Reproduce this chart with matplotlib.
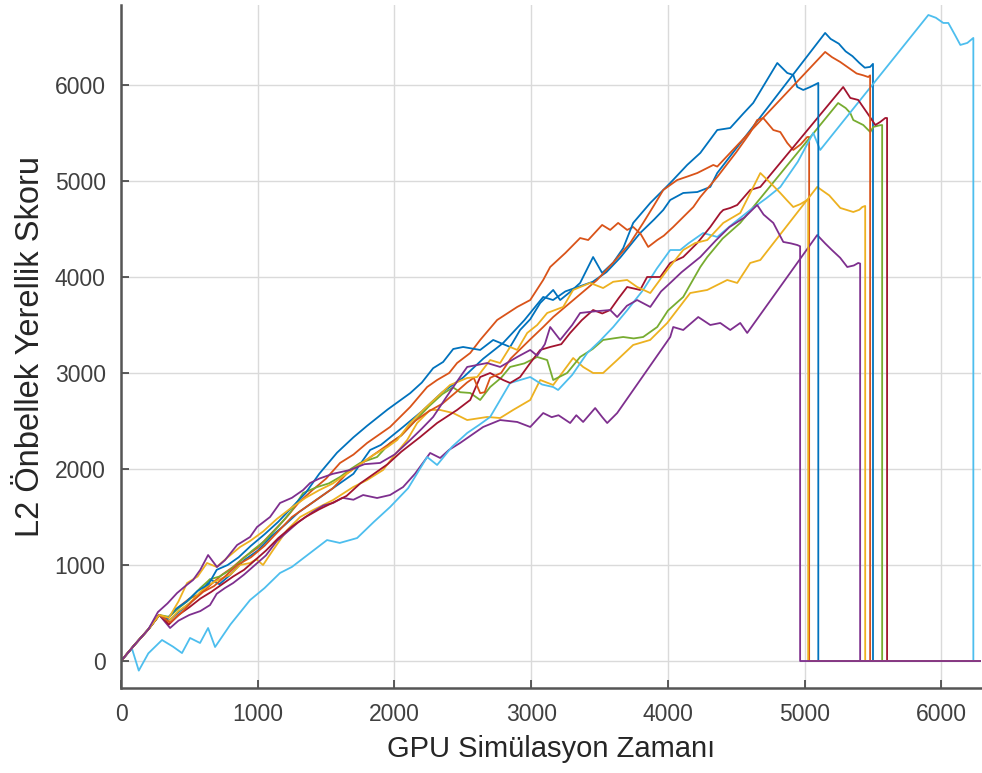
import matplotlib
matplotlib.use("Agg")
import matplotlib.pyplot as plt

# x-axis end of every run (after a run stops its score sits at 0)
X_MAX = 6290

# MATLAB default line colours
BLUE = "#0072BD"
ORANGE = "#D95319"
YELLOW = "#EDB120"
PURPLE = "#7E2F8E"
GREEN = "#77AC30"
LIGHTBLUE = "#4DBEEE"
RED = "#A2142F"

# --- run 1 (blue, stops at ~5500) ---
run1_x = [0, 100, 200, 280, 350, 430, 500, 580, 650, 720, 800, 900, 1000, 1100, 1200, 1300,
          1400, 1500, 1600, 1700, 1822, 1900, 2063, 2200, 2350, 2500, 2650, 2795, 2950, 3088,
          3160, 3250, 3350, 3450, 3550, 3650, 3797, 3900, 3966, 4017, 4112, 4215, 4310, 4361,
          5150, 5190, 5250, 5300, 5350, 5400, 5440, 5479, 5500]
run1_y = [0, 170, 330, 480, 420, 520, 600, 700, 850, 800, 900, 1050, 1150, 1300, 1420, 1550,
          1650, 1750, 1850, 1950, 2198, 2250, 2438, 2600, 2800, 2950, 3150, 3313, 3550, 3792,
          3760, 3850, 3900, 3950, 4050, 4200, 4458, 4600, 4698, 4802, 4875, 4885, 4938, 5083,
          6542, 6480, 6430, 6350, 6300, 6230, 6180, 6188, 6220]

# --- run 2 (orange, stops at ~5033) ---
run2_x = [0, 100, 200, 280, 340, 420, 500, 580, 660, 740, 820, 900, 1000, 1100, 1200, 1300,
          1400, 1500, 1602, 1700, 1800, 1968, 2115, 2239, 2312, 2400, 2458, 2554, 2627, 2751,
          2898, 2993, 3088, 3139, 3250, 3358, 3417, 3519, 3578, 3636, 3702, 3746, 3800, 3856,
          3922, 3970, 4039, 4186, 4237, 4361, 4500, 4600, 4653, 4697, 4771, 4822, 4873, 4917,
          4970, 5019, 5033]
run2_y = [0, 170, 330, 480, 440, 560, 650, 700, 800, 900, 980, 1080, 1180, 1330, 1480, 1650,
          1780, 1900, 2063, 2150, 2271, 2438, 2646, 2854, 2927, 3000, 3104, 3208, 3344, 3552,
          3688, 3760, 3969, 4104, 4250, 4406, 4385, 4542, 4490, 4563, 4490, 4521, 4450, 4313,
          4385, 4430, 4521, 4729, 4833, 5042, 5300, 5500, 5635, 5656, 5531, 5510, 5396, 5323,
          5380, 5458, 5458]

# --- run 3 (yellow, stops at ~5443) ---
run3_x = [0, 100, 200, 280, 340, 420, 500, 580, 650, 720, 800, 871, 944, 990, 1039, 1112,
          1215, 1310, 1405, 1551, 1698, 1800, 1917, 1990, 2093, 2166, 2261, 2334, 2429, 2532,
          2678, 2773, 2868, 2993, 3066, 3161, 3307, 3380, 3453, 3526, 3629, 3746, 3870, 3995,
          4163, 4288, 4434, 4507, 4602, 4676, 5092, 5180, 5261, 5356, 5400, 5422, 5443]
run3_y = [0, 170, 330, 480, 400, 520, 600, 720, 800, 850, 900, 1000, 1021, 1060, 1000, 1156,
          1365, 1500, 1573, 1677, 1812, 1885, 1990, 2125, 2302, 2479, 2615, 2615, 2583, 2510,
          2542, 2531, 2615, 2719, 2927, 2875, 3156, 3063, 3000, 3000, 3135, 3292, 3344, 3521,
          3833, 3865, 3969, 3938, 4146, 4177, 4938, 4850, 4719, 4677, 4700, 4729, 4740]

# --- run 4 (purple, stops at ~5406) ---
run4_x = [0, 100, 200, 280, 359, 420, 500, 580, 651, 700, 760, 820, 900, 980, 1060, 1140,
          1220, 1300, 1400, 1480, 1551, 1620, 1700, 1771, 1873, 1968, 2063, 2150, 2261, 2334,
          2400, 2480, 2560, 2649, 2773, 2898, 2993, 3088, 3150, 3200, 3285, 3330, 3380, 3468,
          3520, 3556, 3629, 4017, 4039, 4112, 4222, 4310, 4383, 4456, 4529, 4580, 5092, 5150,
          5200, 5260, 5312, 5360, 5392, 5406]
run4_y = [0, 170, 330, 480, 344, 420, 480, 520, 583, 700, 760, 812, 900, 1000, 1100, 1250,
          1350, 1450, 1550, 1620, 1646, 1700, 1680, 1729, 1698, 1729, 1812, 1950, 2167, 2115,
          2200, 2271, 2350, 2438, 2510, 2490, 2438, 2583, 2540, 2560, 2479, 2560, 2490, 2635,
          2540, 2479, 2583, 3375, 3479, 3448, 3583, 3500, 3521, 3448, 3521, 3417, 4437, 4350,
          4280, 4200, 4104, 4120, 4146, 4140]

# --- run 5 (green, stops at ~5567) ---
run5_x = [0, 100, 200, 280, 350, 430, 500, 580, 650, 720, 800, 880, 960, 1050, 1150, 1240,
          1332, 1434, 1520, 1602, 1680, 1749, 1873, 1968, 2050, 2150, 2250, 2350, 2429, 2480,
          2554, 2627, 2700, 2780, 2846, 2950, 3044, 3117, 3161, 3263, 3358, 3450, 3526, 3600,
          3673, 3750, 3819, 3922, 4000, 4112, 4237, 4288, 4400, 4529, 5245, 5300, 5334, 5356,
          5429, 5480, 5502, 5550, 5567]
run5_y = [0, 170, 330, 480, 460, 560, 640, 760, 850, 880, 950, 1050, 1150, 1250, 1400, 1550,
          1750, 1812, 1850, 1917, 2000, 2063, 2125, 2271, 2350, 2500, 2650, 2780, 2850, 2800,
          2792, 2719, 2854, 2950, 3063, 3100, 3167, 3135, 2927, 3000, 3167, 3250, 3344, 3360,
          3375, 3360, 3375, 3479, 3650, 3792, 4104, 4208, 4400, 4563, 5812, 5760, 5708, 5635,
          5583, 5510, 5563, 5580, 5583]

# --- run 6 (light blue, stops at ~6234) ---
run6_x = [0, 80, 130, 200, 300, 380, 446, 505, 578, 637, 688, 800, 944, 1050, 1163, 1250,
          1383, 1507, 1600, 1727, 1850, 1968, 2100, 2239, 2312, 2420, 2532, 2620, 2700, 2846,
          2993, 3080, 3161, 3197, 3300, 3410, 3500, 3600, 3700, 3819, 3920, 4017, 4090, 4150,
          4258, 4361, 4480, 4602, 4720, 4822, 4950, 5063, 5114, 5905, 5960, 6014, 6051, 6100,
          6139, 6190, 6234]
run6_y = [0, 130, -100, 80, 219, 150, 83, 240, 188, 344, 146, 380, 635, 760, 917, 980,
          1125, 1260, 1230, 1281, 1450, 1604, 1800, 2125, 2042, 2230, 2375, 2460, 2542, 2896,
          2958, 2880, 2854, 2823, 2980, 3208, 3330, 3479, 3650, 3865, 4090, 4281, 4281, 4350,
          4458, 4417, 4560, 4698, 4820, 4937, 5200, 5500, 5323, 6729, 6700, 6646, 6646, 6520,
          6417, 6438, 6490]

# --- run 7 (red, stops at ~5603) ---
run7_x = [0, 100, 200, 280, 350, 420, 500, 580, 660, 740, 820, 900, 980, 1060, 1150, 1250,
          1350, 1450, 1550, 1650, 1750, 1850, 1950, 2050, 2188, 2312, 2458, 2554, 2627, 2700,
          2795, 2846, 2919, 2993, 3066, 3139, 3220, 3285, 3370, 3453, 3520, 3578, 3640, 3702,
          3797, 3848, 3944, 4017, 4112, 4215, 4310, 4383, 4405, 4456, 4507, 4602, 4676, 5282,
          5334, 5392, 5458, 5517, 5553, 5590, 5603]
run7_y = [0, 170, 330, 480, 380, 480, 560, 650, 720, 800, 880, 950, 1050, 1150, 1280, 1400,
          1500, 1580, 1650, 1720, 1850, 1950, 2050, 2180, 2333, 2479, 2615, 2719, 2958, 3000,
          2927, 2896, 2958, 3104, 3240, 3271, 3300, 3417, 3550, 3656, 3620, 3656, 3780, 3896,
          3865, 4000, 4000, 4146, 4208, 4354, 4521, 4667, 4698, 4719, 4750, 4906, 4938, 5979,
          5865, 5844, 5708, 5583, 5615, 5656, 5656]

# --- run 8 (blue, stops at ~5100) ---
run8_x = [0, 100, 200, 280, 330, 400, 480, 560, 640, 700, 780, 860, 950, 1050, 1150, 1250,
          1350, 1450, 1580, 1700, 1800, 1950, 2115, 2200, 2283, 2356, 2430, 2502, 2627, 2722,
          2846, 2919, 2993, 3066, 3161, 3212, 3290, 3358, 3453, 3519, 3600, 3673, 3746, 3871,
          4017, 4141, 4237, 4361, 4456, 4550, 4624, 4800, 4873, 4917, 4946, 4990, 5041, 5100]
run8_y = [0, 170, 330, 480, 430, 540, 620, 730, 800, 950, 1000, 1080, 1200, 1320, 1450, 1600,
          1750, 1950, 2170, 2330, 2450, 2620, 2790, 2900, 3050, 3115, 3250, 3271, 3240, 3344,
          3271, 3448, 3560, 3729, 3865, 3760, 3850, 3938, 4208, 4042, 4150, 4300, 4563, 4771,
          4979, 5167, 5292, 5531, 5552, 5700, 5813, 6229, 6125, 6104, 5979, 5948, 5979, 6021]

# --- run 9 (orange, stops at ~5479) ---
run9_x = [0, 100, 200, 280, 360, 440, 520, 600, 680, 760, 850, 950, 1050, 1150, 1250, 1350,
          1450, 1550, 1650, 1750, 1850, 1950, 2050, 2150, 2250, 2350, 2450, 2530, 2580, 2627,
          2660, 2700, 2780, 2850, 2993, 3088, 3161, 3300, 3482, 3600, 3724, 3819, 3900, 3966,
          4068, 4150, 4215, 4332, 4361, 5150, 5200, 5260, 5320, 5380, 5430, 5465, 5479]
run9_y = [0, 170, 330, 480, 400, 500, 620, 720, 780, 880, 1000, 1080, 1200, 1350, 1500, 1600,
          1700, 1800, 1950, 2050, 2150, 2250, 2350, 2500, 2600, 2680, 2800, 2900, 2950, 2790,
          2800, 2950, 3000, 3150, 3350, 3479, 3583, 3750, 3969, 4150, 4354, 4563, 4750, 4906,
          5010, 5050, 5083, 5167, 5150, 6344, 6290, 6240, 6180, 6120, 6100, 6083, 6100]

# --- run 10 (yellow, stops at ~5026) ---
run10_x = [0, 100, 200, 280, 350, 420, 483, 560, 629, 700, 780, 871, 944, 1040, 1140, 1250,
           1350, 1450, 1550, 1650, 1750, 1850, 1950, 2020, 2115, 2210, 2312, 2407, 2532, 2605,
           2700, 2773, 2846, 2898, 2971, 3044, 3117, 3234, 3307, 3431, 3526, 3600, 3702, 3775,
           3871, 3995, 4112, 4200, 4288, 4405, 4529, 4676, 4750, 4822, 4870, 4917, 4970, 5019,
           5026]
run10_y = [0, 170, 330, 480, 450, 620, 812, 880, 1021, 980, 1080, 1188, 1250, 1350, 1480, 1600,
           1700, 1780, 1850, 1950, 2050, 2150, 2230, 2302, 2479, 2615, 2750, 2875, 2948, 2958,
           3135, 3104, 3271, 3240, 3417, 3500, 3625, 3688, 3865, 3938, 3885, 3950, 3969, 3896,
           3833, 4073, 4281, 4354, 4385, 4563, 4667, 5083, 4980, 4875, 4800, 4729, 4760, 4802,
           4802]

# --- run 11 (purple, stops at ~4967) ---
run11_x = [0, 100, 200, 270, 340, 410, 470, 527, 580, 637, 702, 760, 849, 944, 995, 1090,
           1163, 1250, 1332, 1383, 1450, 1550, 1676, 1780, 1895, 2000, 2115, 2200, 2283, 2380,
           2480, 2532, 2678, 2773, 2898, 2993, 3044, 3100, 3139, 3212, 3300, 3358, 3450, 3578,
           3629, 3700, 3775, 3871, 3950, 4017, 4100, 4237, 4350, 4450, 4560, 4653, 4700, 4771,
           4844, 4900, 4946, 4967]
run11_y = [0, 170, 330, 510, 600, 708, 780, 844, 950, 1104, 979, 1050, 1208, 1292, 1396, 1500,
           1646, 1700, 1781, 1854, 1900, 1950, 1990, 2050, 2063, 2150, 2302, 2420, 2542, 2750,
           2958, 3063, 3104, 3063, 3167, 3240, 3180, 3300, 3479, 3344, 3500, 3625, 3640, 3656,
           3583, 3700, 3760, 3688, 3850, 3938, 4050, 4208, 4380, 4520, 4620, 4750, 4650, 4563,
           4365, 4350, 4333, 4320]


def with_drop(xs, ys):
    # the score falls to 0 at the last sample and stays there up to X_MAX
    return xs + [xs[-1], X_MAX], ys + [0, 0]


def main():
    plt.rcParams["font.family"] = ["Liberation Sans", "DejaVu Sans"]

    fig = plt.figure(figsize=(9.82, 7.73), dpi=100)
    ax = fig.add_axes([121 / 982, 1 - 688 / 773, 860 / 982, 683 / 773])

    runs = [
        (run1_x, run1_y, BLUE),
        (run2_x, run2_y, ORANGE),
        (run3_x, run3_y, YELLOW),
        (run4_x, run4_y, PURPLE),
        (run5_x, run5_y, GREEN),
        (run6_x, run6_y, LIGHTBLUE),
        (run7_x, run7_y, RED),
        (run8_x, run8_y, BLUE),
        (run9_x, run9_y, ORANGE),
        (run10_x, run10_y, YELLOW),
        (run11_x, run11_y, PURPLE),
    ]
    for xs, ys, color in runs:
        px, py = with_drop(xs, ys)
        ax.plot(px, py, color=color, linewidth=1.3)

    ax.set_xlim(0, X_MAX)
    ax.set_ylim(-281, 6833)
    ax.set_xticks(range(0, 7000, 1000))
    ax.set_yticks(range(0, 7000, 1000))

    ax.grid(True, color="#dadada", linewidth=1.0)
    ax.set_axisbelow(True)
    for side in ["top", "right"]:
        ax.spines[side].set_visible(False)
    for side in ["left", "bottom"]:
        ax.spines[side].set_color("#555555")
        ax.spines[side].set_linewidth(1.8)

    ax.tick_params(direction="in", length=6, width=1.2, colors="#404040",
                   labelsize=16.5, pad=11)
    ax.set_xlabel("GPU Simülasyon Zamanı", fontsize=21, color="#262626", labelpad=6)
    ax.set_ylabel("L2 Önbellek Yerellik Skoru", fontsize=23.5, color="#262626", labelpad=6)

    fig.savefig("out.png", dpi=100)
    plt.close(fig)


if __name__ == "__main__":
    main()
